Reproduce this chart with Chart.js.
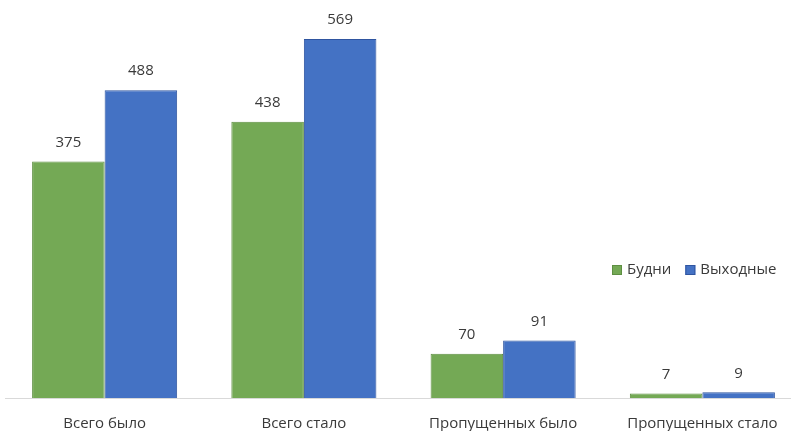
<!DOCTYPE html>
<html>
<head>
<meta charset="utf-8">
<script src="https://cdn.jsdelivr.net/npm/chart.js@4/dist/chart.umd.min.js"></script>
<style>
  html, body { margin: 0; padding: 0; background: #fff; overflow: hidden; }
  #wrap { width: 810px; height: 431px; }
</style>
</head>
<body>
<div id="wrap"><canvas id="myChart" width="810" height="431"></canvas></div>
<script>
const categories = ["Всего было", "Всего стало", "Пропущенных было", "Пропущенных стало"];
const weekdays = [375, 438, 70, 7];
const weekends = [488, 569, 91, 9];
const seriesNames = ["Будни", "Выходные"];

const FONT = "'Open Sans', 'Noto Sans', sans-serif";
const TEXT = "#3a3a3a";

// numbers above each bar
const valueLabels = {
  id: "valueLabels",
  afterDatasetsDraw(chart) {
    const ctx = chart.ctx;
    ctx.save();
    ctx.font = "15px " + FONT;
    ctx.fillStyle = TEXT;
    ctx.textAlign = "center";
    ctx.textBaseline = "middle";
    chart.data.datasets.forEach((ds, i) => {
      chart.getDatasetMeta(i).data.forEach((bar, j) => {
        ctx.fillText(ds.data[j], bar.x, bar.y - 19);
      });
    });
    ctx.restore();
  }
};

// small legend on the right side
const sideLegend = {
  id: "sideLegend",
  afterDraw(chart) {
    const ctx = chart.ctx;
    ctx.save();
    ctx.font = "15px " + FONT;
    ctx.textBaseline = "middle";
    let x = 612;
    const y = 270;
    chart.data.datasets.forEach(ds => {
      ctx.fillStyle = ds.backgroundColor;
      ctx.fillRect(x, y - 5, 10, 10);
      ctx.strokeStyle = ds.borderColor;
      ctx.lineWidth = 1;
      ctx.strokeRect(x + 0.5, y - 4.5, 9, 9);
      ctx.fillStyle = TEXT;
      ctx.fillText(ds.label, x + 15, y);
      x += 15 + ctx.measureText(ds.label).width + 14;
    });
    ctx.restore();
  }
};

const ctx = document.getElementById("myChart").getContext("2d");

new Chart(ctx, {
  type: "bar",
  data: {
    labels: categories,
    datasets: [
      {
        label: seriesNames[0],
        data: weekdays,
        backgroundColor: "#74a955",
        borderColor: "#5e8f42",
        borderWidth: 1
      },
      {
        label: seriesNames[1],
        data: weekends,
        backgroundColor: "#4472c4",
        borderColor: "#2f55a0",
        borderWidth: 1
      }
    ]
  },
  options: {
    responsive: false,
    animation: false,
    devicePixelRatio: 1,
    layout: { padding: { left: 5, right: 8, top: 0, bottom: 0 } },
    categoryPercentage: 0.728,
    barPercentage: 1,
    plugins: {
      legend: { display: false },
      tooltip: { enabled: false }
    },
    scales: {
      x: {
        grid: { display: false },
        border: { display: true, color: "#d9d9d9", width: 1 },
        ticks: {
          color: TEXT,
          font: { family: FONT, size: 15 },
          padding: 9,
          maxRotation: 0
        },
        afterFit(scale) { scale.height = 33; }
      },
      y: {
        display: false,
        min: 0,
        max: 631
      }
    }
  },
  plugins: [valueLabels, sideLegend]
});
</script>
</body>
</html>
